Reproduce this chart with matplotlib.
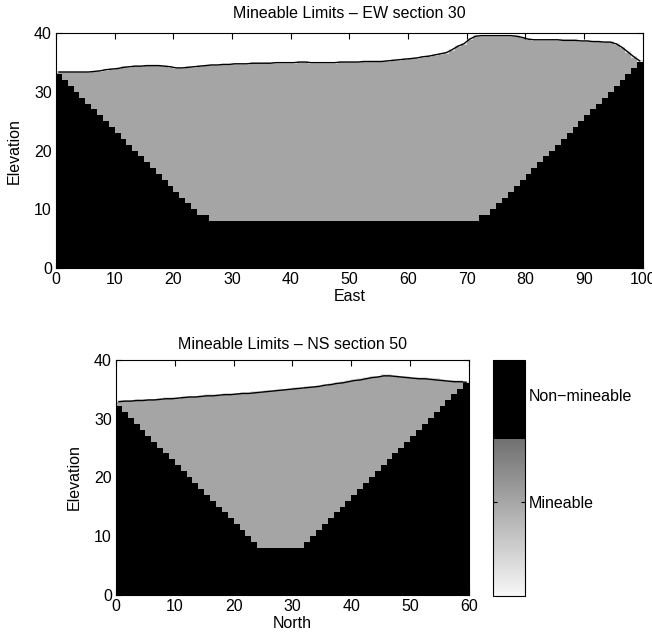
import matplotlib
matplotlib.use("Agg")
import matplotlib.pyplot as plt
import numpy as np
from matplotlib.colors import ListedColormap

plt.rcParams["font.family"] = ["Liberation Sans", "DejaVu Sans"]
plt.rcParams["font.size"] = 11.5

# block codes used in the section images
MINEABLE = 0.40
WASTE = 1.0
FRINGE = 0.12

# EW section 30: top of non-mineable rock and ground surface, one value per column
ew_pit_floor = [
    33, 32, 31, 30, 29, 28, 27, 26, 25, 24,
    23, 22, 21, 20, 19, 18, 17, 16, 15, 14,
    13, 12, 11, 10, 9, 9, 8, 8, 8, 8,
    8, 8, 8, 8, 8, 8, 8, 8, 8, 8,
    8, 8, 8, 8, 8, 8, 8, 8, 8, 8,
    8, 8, 8, 8, 8, 8, 8, 8, 8, 8,
    8, 8, 8, 8, 8, 8, 8, 8, 8, 8,
    8, 8, 9, 9, 10, 11, 12, 13, 14, 15,
    16, 17, 18, 19, 20, 21, 22, 23, 24, 25,
    26, 27, 28, 29, 30, 31, 32, 33, 34, 35,
]
ew_surface = [
    33.4, 33.4, 33.4, 33.4, 33.4, 33.4, 33.5, 33.6, 33.8, 33.9,
    34.0, 34.2, 34.3, 34.4, 34.4, 34.5, 34.5, 34.5, 34.4, 34.3,
    34.1, 34.1, 34.2, 34.3, 34.4, 34.5, 34.6, 34.6, 34.7, 34.7,
    34.8, 34.8, 34.8, 34.9, 34.9, 34.9, 34.9, 35.0, 35.0, 35.0,
    35.0, 35.1, 35.1, 35.0, 35.0, 35.0, 35.0, 35.0, 35.1, 35.1,
    35.1, 35.1, 35.2, 35.2, 35.2, 35.2, 35.3, 35.4, 35.5, 35.6,
    35.7, 35.8, 36.0, 36.1, 36.3, 36.5, 36.7, 37.2, 37.8, 38.2,
    39.0, 39.5, 39.6, 39.6, 39.6, 39.6, 39.6, 39.6, 39.5, 39.3,
    39.0, 38.9, 38.9, 38.9, 38.9, 38.9, 38.8, 38.8, 38.8, 38.7,
    38.7, 38.6, 38.6, 38.5, 38.5, 38.2, 37.6, 36.8, 36.0, 35.3,
]

# NS section 50
ns_pit_floor = [
    32, 31, 30, 29, 28, 27, 26, 25, 24, 23,
    22, 21, 20, 19, 18, 17, 16, 15, 14, 13,
    12, 11, 10, 9, 8, 8, 8, 8, 8, 8,
    8, 8, 9, 10, 11, 12, 13, 14, 15, 16,
    17, 18, 19, 20, 21, 22, 23, 24, 25, 26,
    27, 28, 29, 30, 31, 32, 33, 34, 35, 36,
]
ns_surface = [
    32.9, 33.0, 33.0, 33.1, 33.1, 33.2, 33.2, 33.3, 33.4, 33.4,
    33.5, 33.6, 33.7, 33.7, 33.8, 33.9, 33.9, 34.0, 34.1, 34.1,
    34.2, 34.3, 34.3, 34.4, 34.5, 34.6, 34.7, 34.8, 34.9, 35.0,
    35.1, 35.2, 35.3, 35.4, 35.5, 35.7, 35.8, 36.0, 36.1, 36.3,
    36.5, 36.6, 36.8, 37.0, 37.1, 37.3, 37.3, 37.2, 37.1, 37.0,
    36.9, 36.8, 36.8, 36.7, 36.6, 36.5, 36.4, 36.3, 36.3, 36.2,
]

cbar_ticks = [MINEABLE, 0.85]
cbar_labels = ["Mineable", "Non\u2212mineable"]

# grey ramp for the lower two thirds, solid black on top
n_levels = 255
n_ramp = 170
ramp = np.linspace(0.97, 0.44, n_ramp)
levels = np.concatenate([ramp, np.zeros(n_levels - n_ramp)])
cmap = ListedColormap(np.column_stack([levels, levels, levels]))
cmap.set_under("white")


def section_image(pit_floor, surface, dz=0.05, top=40.0):
    z = (np.arange(0, top, dz) + dz / 2)[:, None]
    floor = np.asarray(pit_floor, dtype=float)[None, :]
    surf = np.asarray(surface, dtype=float)[None, :]
    img = np.full((z.shape[0], floor.shape[1]), -1.0)
    img[z < surf + 0.1] = FRINGE
    img[z < surf - 0.2] = MINEABLE
    img[z < floor] = WASTE
    return img


def draw_section(ax, pit_floor, surface, xlabel, title, title_pad):
    ncol = len(pit_floor)
    im = ax.imshow(section_image(pit_floor, surface), extent=[0, ncol, 0, 40],
                   origin="lower", aspect="auto", cmap=cmap, vmin=0, vmax=1,
                   interpolation="nearest")
    ax.plot(np.arange(ncol) + 0.5, surface, color="black", lw=1.0)
    ax.set_xlim(0, ncol)
    ax.set_ylim(0, 40)
    ax.set_xticks(np.arange(0, ncol + 1, 10))
    ax.set_yticks(np.arange(0, 41, 10))
    ax.tick_params(direction="in", length=4, top=True, right=True, pad=3)
    ax.set_xlabel(xlabel, labelpad=1)
    ax.set_ylabel("Elevation", labelpad=9)
    ax.set_title(title, fontsize=11.5, pad=title_pad)
    for s in ax.spines.values():
        s.set_linewidth(0.8)
    return im


fig = plt.figure(figsize=(6.52, 6.37), dpi=100)

ax1 = fig.add_axes([0.0859, 0.5793, 0.8998, 0.3684])
draw_section(ax1, ew_pit_floor, ew_surface, "East",
             "Mineable Limits \u2013 EW section 30", 11)

ax2 = fig.add_axes([0.1779, 0.0659, 0.5414, 0.3690])
im2 = draw_section(ax2, ns_pit_floor, ns_surface, "North",
                   "Mineable Limits \u2013 NS section 50", 8)

cax = fig.add_axes([0.7557, 0.0644, 0.0495, 0.3705])
cb = fig.colorbar(im2, cax=cax, ticks=cbar_ticks)
cb.set_ticklabels(cbar_labels)
cb.outline.set_linewidth(0.8)
cax.tick_params(direction="in", length=3, left=True, right=True,
                labelleft=False, labelright=True, labelsize=11.5, pad=3)

fig.savefig("out.png", dpi=100)
